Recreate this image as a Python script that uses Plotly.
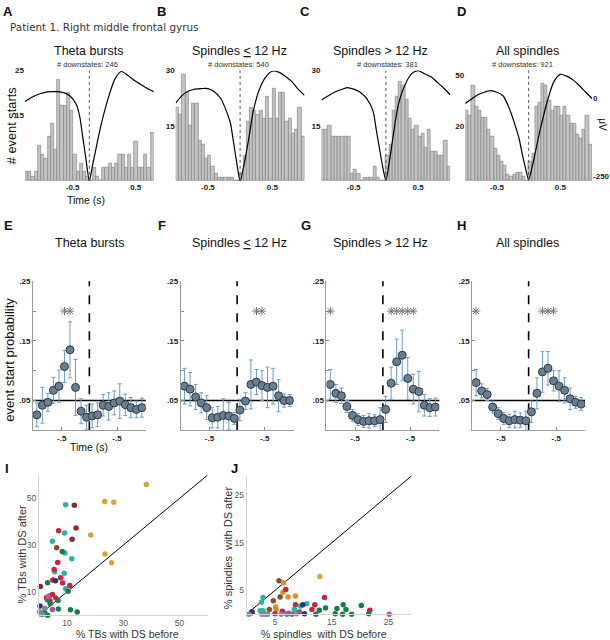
import plotly.graph_objects as go

W, H = 610, 640
FONT = "Liberation Sans, Arial, sans-serif"

# ---------------- data ----------------
patient_label = "Patient 1. Right middle frontal gyrus"
panel_titles = ["Theta bursts", "Spindles <u>&lt;</u> 12 Hz", "Spindles &gt; 12 Hz", "All spindles"]
downstates = [246, 540, 381, 921]

# histogram bins (50 ms, -1 .. 1 s)
hist_bins = [round(-0.975 + 0.05 * i, 3) for i in range(40)]
counts_theta = [2, 2, 1, 2, 8, 6, 5, 10, 13, 7, 23, 17, 17, 20, 16, 6, 2, 4, 2, 1,
                0, 3, 1, 0, 3, 3, 4, 3, 4, 6, 6, 3, 6, 3, 9, 3, 3, 6, 3, 11]
counts_spin_lo = [20, 18, 29, 24, 15, 21, 21, 11, 10, 6, 7, 4, 2, 1, 1, 1, 1, 1, 0, 0,
                  2, 7, 16, 20, 19, 18, 19, 17, 23, 17, 25, 17, 24, 24, 16, 17, 13, 14, 20, 12]
counts_spin_hi = [14, 14, 15, 12, 12, 12, 12, 12, 12, 2, 3, 2, 0, 1, 1, 1, 4, 1, 0, 0,
                  7, 10, 19, 23, 27, 26, 22, 17, 14, 15, 12, 13, 9, 14, 8, 8, 7, 7, 11, 4]
counts_spin_all = [33, 31, 45, 35, 33, 30, 30, 24, 21, 15, 12, 9, 7, 3, 2, 3, 4, 4, 2, 0,
                   9, 13, 35, 37, 46, 45, 38, 33, 35, 35, 31, 35, 31, 27, 27, 22, 20, 24, 31, 17]
hist_counts = [counts_theta, counts_spin_lo, counts_spin_hi, counts_spin_all]
hist_ymax = [25, 30, 30, 52]
hist_ytickvals = [[15, 25], [15, 30], [15, 30], [26, 50]]
hist_yticktext = [["15", "25"], ["15", "30"], ["15", "30"], ["20", "50"]]
hist_xtickvals = [[-0.26, 0.72], [-0.5, 0.5], [-0.5, 0.5], [-0.5, 0.5]]
hist_xticktext = ["-0.5", "0.5"]

# average downstate LFP (uV)
lfp_time = [-1.0, -0.9, -0.8, -0.7, -0.6, -0.5, -0.4, -0.3, -0.2, -0.15, -0.1, -0.05, 0.0,
            0.05, 0.1, 0.15, 0.2, 0.3, 0.4, 0.5, 0.6, 0.7, 0.8, 0.9, 1.0]
lfp_theta = [-10, 3, 13, 19, 22, 22, 19, 8, -20, -58, -128, -200, -266,
             -215, -165, -115, -70, 6, 64, 87, 74, 58, 45, 32, 22]
lfp_spin_lo = [-15, 10, 24, 30, 32, 32, 22, 0, -48, -80, -144, -210, -266,
               -225, -170, -110, -45, 30, 70, 88, 85, 72, 55, 30, 10]
lfp_spin_hi = [-5, 8, 20, 28, 35, 30, 20, 0, -40, -100, -160, -220, -264,
               -210, -140, -70, -15, 45, 80, 90, 80, 70, 52, 33, 12]
lfp_spin_all = [-16, -2, 12, 20, 25, 20, 8, -35, -95, -130, -180, -225, -262,
                -225, -180, -130, -85, -5, 55, 78, 72, 60, 42, 20, 0]
lfp_curves = [lfp_theta, lfp_spin_lo, lfp_spin_hi, lfp_spin_all]
lfp_range = [-266, 90]

# event start probability (100 ms bins)
prob_time = [round(-0.95 + 0.1 * k, 2) for k in range(20)]
prob_theta = [0.026, 0.042, 0.047, 0.067, 0.074, 0.107, 0.135, 0.072, 0.032, 0.022,
              0.024, 0.026, 0.042, 0.040, 0.046, 0.049, 0.043, 0.038, 0.035, 0.038]
err_theta = [0.02, 0.03, 0.015, 0.022, 0.027, 0.027, 0.047, 0.047, 0.021, 0.02,
             0.02, 0.02, 0.018, 0.023, 0.02, 0.029, 0.018, 0.017, 0.014, 0.016]
prob_spin_lo = [0.074, 0.069, 0.056, 0.046, 0.038, 0.021, 0.022, 0.025, 0.024, 0.020,
                0.034, 0.049, 0.077, 0.081, 0.075, 0.072, 0.074, 0.058, 0.050, 0.050]
err_spin_lo = [0.03, 0.028, 0.021, 0.017, 0.02, 0.017, 0.018, 0.028, 0.023, 0.01,
               0.018, 0.014, 0.041, 0.021, 0.025, 0.034, 0.03, 0.027, 0.011, 0.01]
prob_spin_hi = [0.077, 0.062, 0.058, 0.040, 0.025, 0.018, 0.015, 0.016, 0.016, 0.018,
                0.035, 0.079, 0.115, 0.126, 0.087, 0.069, 0.065, 0.042, 0.038, 0.039]
err_spin_hi = [0.025, 0.015, 0.013, 0.01, 0.01, 0.01, 0.01, 0.012, 0.01, 0.02,
               0.022, 0.027, 0.038, 0.042, 0.035, 0.025, 0.034, 0.018, 0.015, 0.015]
prob_spin_all = [0.080, 0.066, 0.060, 0.039, 0.028, 0.020, 0.016, 0.018, 0.017, 0.016,
                 0.031, 0.062, 0.098, 0.104, 0.083, 0.074, 0.067, 0.053, 0.047, 0.044]
err_spin_all = [0.022, 0.012, 0.01, 0.01, 0.01, 0.01, 0.011, 0.014, 0.012, 0.016,
                0.018, 0.026, 0.034, 0.028, 0.017, 0.026, 0.021, 0.018, 0.01, 0.011]
prob_vals = [prob_theta, prob_spin_lo, prob_spin_hi, prob_spin_all]
prob_errs = [err_theta, err_spin_lo, err_spin_hi, err_spin_all]
sig_bins = [[5, 6], [13, 14], [0, 11, 12, 13, 14, 15], [0, 12, 13, 14]]
sig_level = 0.2
chance_level = 0.05

# % events with downstate before / after, per channel
palette = {"gold": "#d4a63c", "teal": "#2db3a2", "crimson": "#c8243f", "maroon": "#8a2c2e",
           "brown": "#8a4a30", "green": "#1f7a4e", "navy": "#2c3572", "pink": "#c4579a",
           "purple": "#8c5c9c", "slate": "#7c8a99", "orange": "#e08b2c"}
tb_before = [38.2, 23.4, 26.6, 18.4, 23.5, 25.8,
             9.5, 9.1, 4.8, 9.2, 11.7, 5.6, 9.0, 9.5,
             7.0, 6.7, 5.4, 7.7, 4.9, 8.4, 11.0, 4.8, 3.7, 2.7, 3.9, 6.0,
             12.6, 13.2, 11.8, 0.5,
             6.3,
             8.3, 3.1, 10.4, 3.0, 4.0, 6.8, 6.9, 11.2, 13.6, 3.1, 2.0,
             5.9, 0.4, 1.0,
             3.3, 4.8,
             0.5, 2.1, 0.8, 1.3, 0.2]
tb_after = [56.0, 48.7, 48.3, 34.3, 26.2, 22.4,
            47.3, 35.2, 31.6, 26.6, 24.2, 18.6, 17.9, 11.3,
            36.1, 22.6, 19.6, 16.0, 15.1, 13.8, 12.7, 8.8, 8.2, 7.6, 6.2, 7.3,
            47.1, 37.3, 32.5, 12.3,
            28.9,
            27.3, 13.9, 10.2, 6.6, 4.9, 6.3, 2.6, 2.3, 1.4, 0.0, 1.2,
            14.7, 3.9, 0.6,
            7.9, 2.4,
            1.0, 3.0, 0.3, 0.3, 1.5]
tb_group = (["gold"] * 6 + ["teal"] * 8 + ["crimson"] * 12 + ["maroon"] * 4 + ["brown"]
            + ["green"] * 11 + ["navy"] * 3 + ["pink", "purple"] + ["slate"] * 5)

sp_before = [12.9,
             5.7, 5.9, 4.7, 4.0,
             6.5, 6.4, 7.3, 8.6, 5.1, 5.2,
             6.9, 13.7, 8.6, 12.0, 11.5, 6.3, 5.0, 1.0, 21.7,
             2.9, 2.6, 2.4, 2.9, 10.6, 9.5, 8.4, 8.8,
             13.9, 12.8, 12.2, 15.6, 15.9, 17.0, 17.5, 16.9, 18.5, 20.2, 21.5,
             9.9, 10.2, 0.9,
             9.3, 7.1, 7.4, 8.0,
             0.4, 2.7, 3.2, 3.7, 6.1,
             25.1]
sp_after = [7.9,
            7.0, 3.6, 2.8, 1.0,
            6.6, 4.6, 3.6, 3.8, 1.5, 1.0,
            5.2, 3.5, 2.0, 2.0, 1.0, 0.6, 0.1, 0.3, 0.8,
            3.5, 2.5, 0.7, 0.7, 2.2, 1.7, 1.0, 0.1,
            1.3, 0.8, 0.0, 0.1, 1.2, 2.0, 1.0, 0.0, 0.0, 1.8, 0.1,
            2.0, 0.1, 0.5,
            0.5, 0.0, 0.2, 0.0,
            0.0, 0.0, 0.0, 0.0, 0.0,
            0.0]
sp_group = (["gold"] + ["brown"] * 4 + ["orange"] * 6 + ["crimson"] * 9 + ["teal"] * 8
            + ["green"] * 11 + ["navy"] * 3 + ["purple"] * 4 + ["slate"] * 5 + ["pink"])

I_max, J_max = 60, 29
I_ticks, J_ticks = [10, 30, 50], [5, 15, 25]

# ---------------- layout geometry (pixels) ----------------
top_x_px = [(25, 154), (176, 305), (322, 451), (466, 593)]
top_y_px = (67, 178)
mid_x_px = [(33, 146), (181, 294), (327, 440), (473, 586)]
mid_y_px = (279, 429)
I_x_px, I_y_px = (39, 208), (474, 615)
J_x_px, J_y_px = (247, 412), (475, 614)


def fx(p):
    return p / W


def fy(p):
    return 1 - p / H


def xname(n):
    return "xaxis" if n == 1 else f"xaxis{n}"


def yname(n):
    return "yaxis" if n == 1 else f"yaxis{n}"


def xr(n):
    return "x" if n == 1 else f"x{n}"


def yr(n):
    return "y" if n == 1 else f"y{n}"


def bold(lst):
    return [f"<b>{t}</b>" if t else "" for t in lst]


fig = go.Figure()
layout = {}
shapes = []
ann = []

tick_font = dict(family=FONT, size=8, color="#222")

# ---- top row: histograms + LFP ----
for p in range(4):
    xn, yn, yl = p + 1, p + 1, p + 5
    x0, x1 = top_x_px[p]
    dom_y = [fy(top_y_px[1]), fy(top_y_px[0])]
    layout[xname(xn)] = dict(domain=[fx(x0), fx(x1)], range=[-1, 1], anchor=yr(yn),
                             tickvals=hist_xtickvals[p], ticktext=bold(hist_xticktext),
                             ticks="", showline=False, showgrid=False, zeroline=False,
                             tickfont=tick_font)
    layout[yname(yn)] = dict(domain=dom_y, range=[0, hist_ymax[p]], anchor=xr(xn),
                             tickvals=hist_ytickvals[p], ticktext=bold(hist_yticktext[p]),
                             ticks="", showline=False, showgrid=False, zeroline=False,
                             tickfont=tick_font)
    layout[yname(yl)] = dict(range=lfp_range, overlaying=yr(yn), anchor=xr(xn), side="right",
                             showgrid=False, zeroline=False, showline=False, ticks="",
                             showticklabels=(p == 3), tickvals=[-250, 0],
                             ticktext=bold(["-250", "0"]), tickfont=tick_font)
    fig.add_trace(go.Bar(x=hist_bins, y=hist_counts[p], width=0.05,
                         marker=dict(color="#c4c4c4", line=dict(color="#7a7a7a", width=0.6)),
                         xaxis=xr(xn), yaxis=yr(yn), hoverinfo="skip"))
    fig.add_trace(go.Scatter(x=lfp_time, y=lfp_curves[p], mode="lines",
                             line=dict(color="black", width=1.2, shape="spline", smoothing=0.7),
                             xaxis=xr(xn), yaxis=yr(yl), hoverinfo="skip"))
    shapes.append(dict(type="line", xref=xr(xn), yref=f"{yr(yn)} domain", x0=0, x1=0,
                       y0=0, y1=1, line=dict(color="#555", width=1, dash="dot")))

# ---- middle row: probabilities ----
for p in range(4):
    xn, yn = p + 5, p + 9
    x0, x1 = mid_x_px[p]
    layout[xname(xn)] = dict(domain=[fx(x0), fx(x1)], range=[-1.02, 1.02], anchor=yr(yn),
                             tickvals=[-0.5, 0.5], ticktext=bold(["-.5", "-.5"]),
                             ticks="inside", ticklen=3, tickcolor="#888",
                             showline=True, linecolor="#9a9a9a", linewidth=1,
                             showgrid=False, zeroline=False, tickfont=tick_font)
    layout[yname(yn)] = dict(domain=[fy(mid_y_px[1]), fy(mid_y_px[0])], range=[0, 0.25],
                             anchor=xr(xn), tickvals=[0.05, 0.1, 0.15, 0.2, 0.25],
                             ticktext=bold([".05", "", ".15", "", ".25"]),
                             ticks="inside", ticklen=3, tickcolor="#888",
                             showline=True, linecolor="#9a9a9a", linewidth=1,
                             showgrid=False, zeroline=False, tickfont=tick_font)
    shapes.append(dict(type="line", xref=f"{xr(xn)} domain", yref=yr(yn), x0=0, x1=1,
                       y0=chance_level, y1=chance_level, layer="below",
                       line=dict(color="black", width=1.6)))
    shapes.append(dict(type="line", xref=xr(xn), yref=f"{yr(yn)} domain", x0=0, x1=0,
                       y0=0, y1=1, layer="below", line=dict(color="black", width=1.6, dash="dash")))
    fig.add_trace(go.Scatter(x=prob_time, y=prob_vals[p], mode="markers",
                             marker=dict(size=8, color="#6a7e92", line=dict(color="#2b3947", width=1)),
                             error_y=dict(type="data", array=prob_errs[p], color="#6d9cc1",
                                          thickness=1, width=2),
                             xaxis=xr(xn), yaxis=yr(yn), hoverinfo="skip"))
    fig.add_trace(go.Scatter(x=[prob_time[k] for k in sig_bins[p]],
                             y=[sig_level] * len(sig_bins[p]), mode="markers",
                             marker=dict(symbol="asterisk-open", size=7, color="#777",
                                         line=dict(color="#777", width=1)),
                             xaxis=xr(xn), yaxis=yr(yn), hoverinfo="skip"))

# ---- bottom row: scatter plots ----
for (xn, yn, xpx, ypx, vmax, ticks, bx, ay, grp) in [
        (9, 13, I_x_px, I_y_px, I_max, I_ticks, tb_before, tb_after, tb_group),
        (10, 14, J_x_px, J_y_px, J_max, J_ticks, sp_before, sp_after, sp_group)]:
    common = dict(showline=True, linecolor="#d4d4d4", linewidth=1, showgrid=False,
                  zeroline=False, ticks="", tickvals=ticks,
                  tickfont=dict(family=FONT, size=8.5, color="#555"))
    layout[xname(xn)] = dict(domain=[fx(xpx[0]), fx(xpx[1])], range=[0, vmax],
                             anchor=yr(yn), **common)
    layout[yname(yn)] = dict(domain=[fy(ypx[1]), fy(ypx[0])], range=[0, vmax],
                             anchor=xr(xn), **common)
    fig.add_trace(go.Scatter(x=[0, vmax], y=[0, vmax], mode="lines",
                             line=dict(color="black", width=1), xaxis=xr(xn), yaxis=yr(yn),
                             hoverinfo="skip"))
    fig.add_trace(go.Scatter(x=bx, y=ay, mode="markers", cliponaxis=False,
                             marker=dict(size=5.5, color=[palette[g] for g in grp]),
                             xaxis=xr(xn), yaxis=yr(yn), hoverinfo="skip"))


# ---------------- text ----------------
def text(x, y, s, size, color="#111", xanchor="center", angle=0, family=FONT):
    ann.append(dict(x=fx(x), y=fy(y), xref="paper", yref="paper", text=s, showarrow=False,
                    xanchor=xanchor, yanchor="middle", textangle=angle,
                    font=dict(family=family, size=size, color=color)))


for lbl, (x, y) in zip("ABCDEFGHIJ", [(8, 8), (162, 8), (306, 8), (462, 8),
                                      (9, 223), (162, 223), (307, 223), (462, 223),
                                      (7, 467), (235, 467)]):
    text(x, y, f"<b>{lbl}</b>", 13)

text(8, 23, patient_label, 10.4, "#333", xanchor="left", family="DejaVu Sans")

for p, (cx, dx) in enumerate([(89, 88), (240, 239), (381, 388), (528, 523)]):
    text(cx, 47, panel_titles[p], 12.5)
    text(dx, 61, f"# downstates: {downstates[p]}", 7.5, "#333")

for p, cx in enumerate([90, 240, 381, 528]):
    text(cx, 241, panel_titles[p], 12.5)

text(11, 122, "# event starts", 12.8, angle=-90)
text(86, 197, "Time (s)", 10.5)
text(604, 121, "\u03bcV", 10, angle=90)
text(10, 358, "event start probability", 13, angle=-90)
text(89, 446, "Time (s)", 10.5)

text(22, 553, "% TBs with DS after", 11, "#333", angle=-90)
text(128, 634, "% TBs with DS before", 10.5, "#333")
text(228, 547, "% spindles\u00a0 with DS after", 11, "#333", angle=-90)
text(325, 634, "% spindles\u00a0 with DS before", 10.5, "#333")

layout.update(width=W, height=H, margin=dict(l=0, r=0, t=0, b=0),
              paper_bgcolor="white", plot_bgcolor="rgba(0,0,0,0)",
              showlegend=False, bargap=0, shapes=shapes, annotations=ann,
              font=dict(family=FONT))
fig.update_layout(**layout)
fig.write_html("out.html", config={"displayModeBar": False},
               post_script="document.body.style.margin='0';")
